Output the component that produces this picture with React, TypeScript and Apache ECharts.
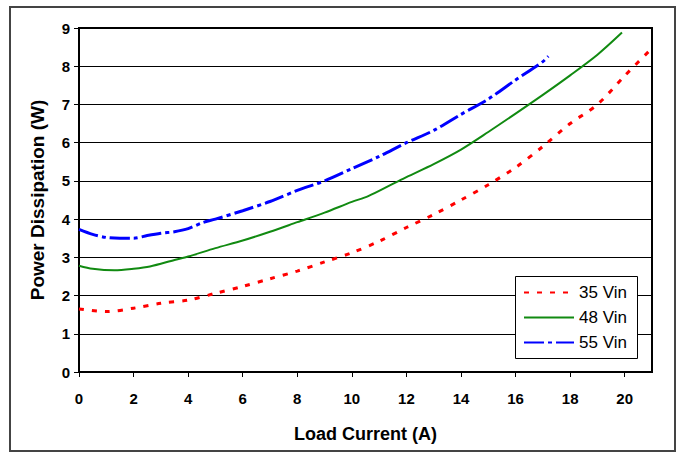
import React, { useEffect, useRef } from "react";
import * as echarts from "echarts";

const xTicks = [0, 2, 4, 6, 8, 10, 12, 14, 16, 18, 20];
const yTicks = [0, 1, 2, 3, 4, 5, 6, 7, 8, 9];

const x35 = [0, 1, 2, 3, 4, 5, 6, 7, 8, 9, 10, 11, 12, 13, 14, 15, 16, 17, 18, 19, 20, 20.9];
const y35 = [1.65, 1.58, 1.67, 1.8, 1.88, 2.06, 2.24, 2.44, 2.64, 2.88, 3.12, 3.42, 3.78, 4.12, 4.5, 4.9, 5.35, 5.9, 6.5, 7.0, 7.75, 8.4];

const x48 = [0, 0.5, 1.3, 2, 2.6, 3.5, 4, 5, 6, 7, 8, 9, 10, 10.6, 11.5, 12, 13, 14, 15, 16, 17, 18, 19, 19.9];
const y48 = [2.78, 2.7, 2.66, 2.7, 2.76, 2.93, 3.02, 3.24, 3.44, 3.67, 3.92, 4.17, 4.45, 4.6, 4.92, 5.1, 5.44, 5.82, 6.28, 6.76, 7.25, 7.76, 8.3, 8.88];

const x55 = [0, 0.5, 1, 1.5, 2, 2.5, 3, 3.5, 4, 4.5, 5, 6, 7, 8, 9, 10, 11, 12, 13, 14, 15, 16, 17, 17.2];
const y55 = [3.73, 3.6, 3.52, 3.5, 3.5, 3.57, 3.63, 3.67, 3.75, 3.9, 4.0, 4.22, 4.46, 4.75, 5.0, 5.32, 5.64, 6.0, 6.32, 6.74, 7.14, 7.64, 8.12, 8.26];

const seriesNames = ["35 Vin", "48 Vin", "55 Vin"];

const zip = (xs: number[], ys: number[]) => xs.map((x, i) => [x, ys[i]]);

const FONT = "Liberation Sans, Arial, sans-serif";

export default function App() {
  const ref = useRef<HTMLDivElement>(null);
  useEffect(() => {
    if (!ref.current) return;
    const chart = echarts.init(ref.current, undefined, { renderer: "svg" });
    chart.setOption({
      animation: false,
      backgroundColor: "#fff",
      grid: {
        left: 79,
        top: 28,
        right: 26,
        bottom: 82,
        show: true,
        borderColor: "#000",
        borderWidth: 2,
        backgroundColor: "transparent",
      },
      xAxis: {
        type: "value",
        min: 0,
        max: 21,
        interval: 2,
        name: "Load Current (A)",
        nameLocation: "middle",
        nameGap: 53,
        nameTextStyle: { fontFamily: FONT, fontSize: 18, fontWeight: "bold", color: "#000" },
        axisLine: { show: true, lineStyle: { color: "#000", width: 2 } },
        axisTick: { show: true, length: 5, lineStyle: { color: "#000", width: 1 } },
        axisLabel: {
          margin: 19,
          fontFamily: FONT,
          fontSize: 15,
          fontWeight: "bold",
          color: "#000",
          showMaxLabel: false,
          formatter: (v: number) => (xTicks.includes(v) ? String(v) : ""),
        },
        splitLine: { show: false },
      },
      yAxis: {
        type: "value",
        min: 0,
        max: 9,
        interval: 1,
        name: "Power Dissipation (W)",
        nameLocation: "middle",
        nameGap: 32,
        nameTextStyle: { fontFamily: FONT, fontSize: 19, fontWeight: "bold", color: "#000" },
        axisLine: { show: true, lineStyle: { color: "#000", width: 2 } },
        axisTick: { show: true, length: 5, lineStyle: { color: "#000", width: 1 } },
        axisLabel: {
          margin: 9,
          fontFamily: FONT,
          fontSize: 15,
          fontWeight: "bold",
          color: "#000",
          formatter: (v: number) => (yTicks.includes(v) ? String(v) : ""),
        },
        splitLine: { show: true, lineStyle: { color: "#000", width: 1 } },
      },
      legend: {
        orient: "vertical",
        left: 515,
        top: 276,
        z: 10,
        itemWidth: 50,
        itemHeight: 12,
        itemGap: 8,
        padding: [8, 6, 8, 8],
        borderWidth: 0,
        backgroundColor: "transparent",
        itemStyle: { opacity: 0 },
        textStyle: { fontFamily: FONT, fontSize: 17, color: "#000" },
        data: seriesNames,
      },
      graphic: [
        {
          type: "rect",
          shape: { x: 10, y: 7, width: 665, height: 444 },
          style: { fill: "none", stroke: "#444", lineWidth: 2 },
          silent: true,
        },
        {
          type: "rect",
          z: 5,
          shape: { x: 515.5, y: 276.5, width: 122, height: 82 },
          style: { fill: "#fff", stroke: "#000", lineWidth: 1 },
          silent: true,
        },
      ],
      series: [
        {
          name: seriesNames[0],
          type: "line",
          data: zip(x35, y35),
          smooth: 0.3,
          showSymbol: false,
          symbol: "none",
          lineStyle: { color: "#ff0000", width: 3, type: [5, 8] },
          itemStyle: { color: "#ff0000" },
        },
        {
          name: seriesNames[1],
          type: "line",
          data: zip(x48, y48),
          smooth: 0.3,
          showSymbol: false,
          symbol: "none",
          lineStyle: { color: "#118a11", width: 2, type: "solid" },
          itemStyle: { color: "#118a11" },
        },
        {
          name: seriesNames[2],
          type: "line",
          data: zip(x55, y55),
          smooth: 0.3,
          showSymbol: false,
          symbol: "none",
          lineStyle: { color: "#0000ff", width: 3, type: [20, 4, 4, 4] },
          itemStyle: { color: "#0000ff" },
        },
      ],
    });
    return () => chart.dispose();
  }, []);
  return (
    <div
      ref={ref}
      style={{ position: "fixed", left: 0, top: 0, width: 678, height: 454 }}
    />
  );
}
